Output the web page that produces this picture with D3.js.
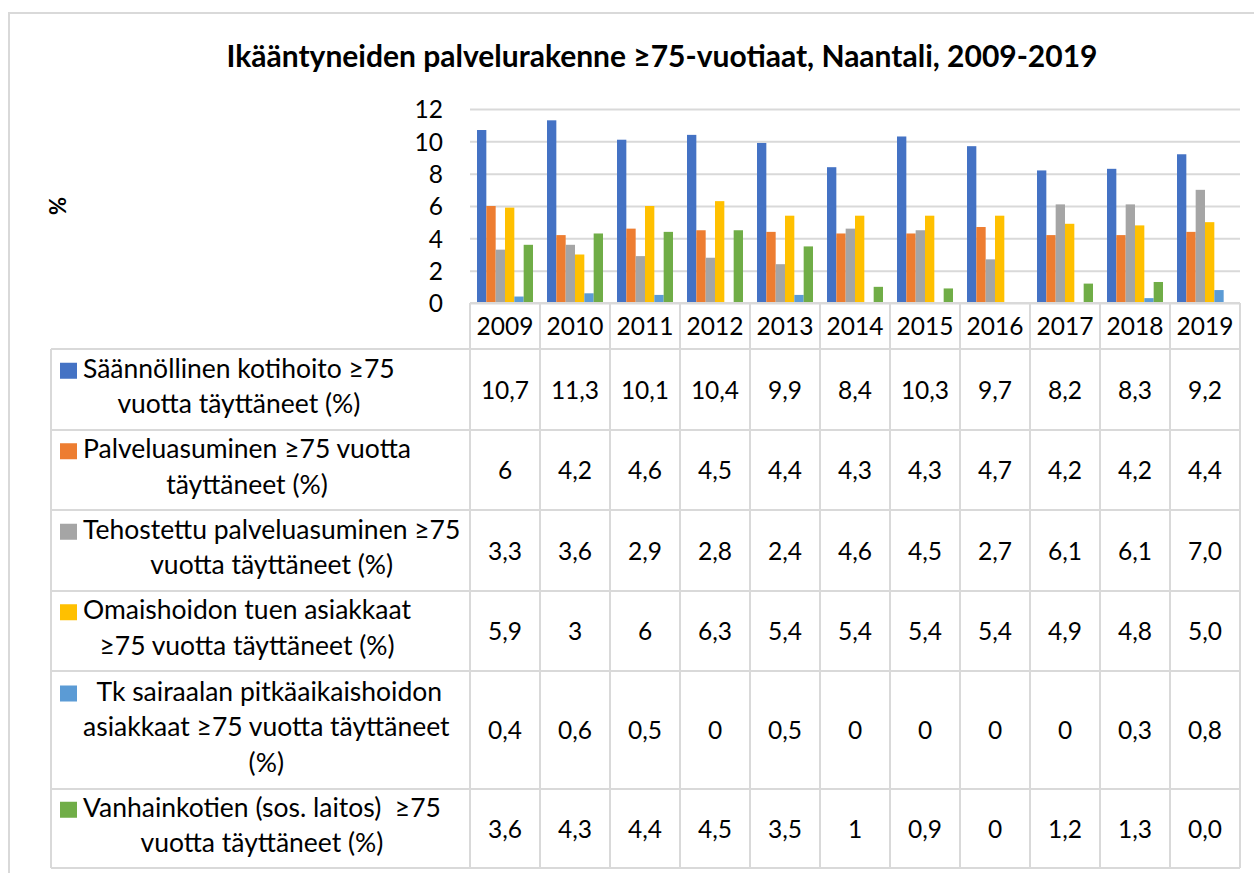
<!DOCTYPE html>
<html>
<head>
<meta charset="utf-8">
<script src="https://cdn.jsdelivr.net/npm/d3@7"></script>
<style>
  body { margin: 0; background: #fff; }
  text { font-family: Lato, "Open Sans", sans-serif; fill: #000; }
</style>
</head>
<body>
<svg></svg>
<script>
// Chart data (table values kept as printed)
const years = ["2009", "2010", "2011", "2012", "2013", "2014", "2015", "2016", "2017", "2018", "2019"];

const seriesNames = [
    "Säännöllinen kotihoito ≥75\nvuotta täyttäneet (%)",
    "Palveluasuminen ≥75 vuotta\ntäyttäneet (%)",
    "Tehostettu palveluasuminen ≥75\nvuotta täyttäneet (%)",
    "Omaishoidon tuen asiakkaat\n≥75 vuotta täyttäneet (%)",
    " Tk sairaalan pitkäaikaishoidon\nasiakkaat ≥75 vuotta täyttäneet\n(%)",
    "Vanhainkotien (sos. laitos)  ≥75\nvuotta täyttäneet (%)"
];

const kotihoito     = ["10,7", "11,3", "10,1", "10,4", "9,9", "8,4", "10,3", "9,7", "8,2", "8,3", "9,2"];
const palveluasum   = ["6", "4,2", "4,6", "4,5", "4,4", "4,3", "4,3", "4,7", "4,2", "4,2", "4,4"];
const tehostettu    = ["3,3", "3,6", "2,9", "2,8", "2,4", "4,6", "4,5", "2,7", "6,1", "6,1", "7,0"];
const omaishoito    = ["5,9", "3", "6", "6,3", "5,4", "5,4", "5,4", "5,4", "4,9", "4,8", "5,0"];
const tkSairaala    = ["0,4", "0,6", "0,5", "0", "0,5", "0", "0", "0", "0", "0,3", "0,8"];
const vanhainkodit  = ["3,6", "4,3", "4,4", "4,5", "3,5", "1", "0,9", "0", "1,2", "1,3", "0,0"];

const yTicks = [0, 2, 4, 6, 8, 10, 12];
const colors = ["#4472C4", "#ED7D31", "#A5A5A5", "#FFC000", "#5B9BD5", "#70AD47"];

const seriesLabels = [kotihoito, palveluasum, tehostettu, omaishoito, tkSairaala, vanhainkodit];
const toNumber = s => +s.replace(",", ".");

const width = 1254;
const height = 873;
const gridColor = "#d9d9d9";
const fontSize = 24.5;
const labelSize = 26.5;

const svg = d3.select("svg")
    .attr("width", width)
    .attr("height", height);

// outer chart frame
svg.append("rect")
    .attr("x", 9).attr("y", 13)
    .attr("width", 1300).attr("height", 900)
    .attr("fill", "none")
    .attr("stroke", gridColor)
    .attr("stroke-width", 2);

// title
svg.append("text")
    .attr("x", 662).attr("y", 67)
    .attr("text-anchor", "middle")
    .style("font-weight", "bold")
    .style("font-size", "30px")
    .text("Ikääntyneiden palvelurakenne ≥75-vuotiaat, Naantali, 2009-2019");

// axis title
svg.append("text")
    .attr("transform", "translate(66,206) rotate(-90)")
    .attr("text-anchor", "middle")
    .style("font-weight", "bold")
    .style("font-size", "22px")
    .text("%");

// scales
const x0 = d3.scaleBand()
    .domain(years)
    .range([470, 1240]);

const x1 = d3.scaleBand()
    .domain(d3.range(seriesLabels.length))
    .range([x0.bandwidth() * 0.1, x0.bandwidth() * 0.9]);

const y = d3.scaleLinear()
    .domain([0, 12])
    .range([303, 109]);

// gridlines
const yAxis = svg.append("g")
    .attr("transform", "translate(470,0)")
    .call(d3.axisLeft(y).tickValues(yTicks).tickSize(-770).tickPadding(27));

yAxis.select(".domain").remove();
yAxis.selectAll(".tick line")
    .attr("stroke", gridColor)
    .attr("stroke-width", 2);
yAxis.selectAll(".tick text")
    .style("font-size", fontSize + "px")
    .attr("dy", "0.36em");

// bars
const groups = svg.append("g")
    .selectAll("g")
    .data(years)
    .enter().append("g")
    .attr("transform", d => "translate(" + x0(d) + ",0)");

groups.selectAll("rect")
    .data((d, i) => seriesLabels.map((s, k) => ({ k: k, v: toNumber(s[i]) })))
    .enter().append("rect")
    .attr("x", d => x1(d.k))
    .attr("y", d => y(d.v))
    .attr("width", x1.bandwidth())
    .attr("height", d => y(0) - y(d.v))
    .attr("fill", d => colors[d.k]);

// data table
const rowEdges = [349, 430, 510, 591, 671, 789, 868];
const tableLeft = 51;
const tableRight = 1240;

const table = svg.append("g");

// horizontal lines
table.append("line")
    .attr("x1", 470).attr("x2", tableRight)
    .attr("y1", y(0)).attr("y2", y(0));
table.selectAll("line.row")
    .data(rowEdges)
    .enter().append("line")
    .attr("class", "row")
    .attr("x1", tableLeft).attr("x2", tableRight)
    .attr("y1", d => d).attr("y2", d => d);

// vertical lines
table.append("line")
    .attr("x1", tableLeft).attr("x2", tableLeft)
    .attr("y1", rowEdges[0]).attr("y2", rowEdges[rowEdges.length - 1]);
table.selectAll("line.col")
    .data(years.concat(["end"]))
    .enter().append("line")
    .attr("class", "col")
    .attr("x1", (d, i) => 470 + i * x0.bandwidth())
    .attr("x2", (d, i) => 470 + i * x0.bandwidth())
    .attr("y1", y(0)).attr("y2", rowEdges[rowEdges.length - 1]);

table.selectAll("line")
    .attr("stroke", gridColor)
    .attr("stroke-width", 2);

// year labels
table.selectAll("text.year")
    .data(years)
    .enter().append("text")
    .attr("class", "year")
    .attr("x", d => x0(d) + x0.bandwidth() / 2)
    .attr("y", 335)
    .attr("text-anchor", "middle")
    .style("font-size", fontSize + "px")
    .text(d => d);

// rows: legend key, series name and values
seriesLabels.forEach(function(values, k) {
    const top = rowEdges[k];
    const bottom = rowEdges[k + 1];
    const mid = (top + bottom) / 2;
    const lines = seriesNames[k].split("\n");
    const lineHeight = 35.5;
    const firstBase = mid - (lines.length - 1) * lineHeight / 2 + 6;

    table.append("rect")
        .attr("x", 60).attr("y", firstBase - 15)
        .attr("width", 17).attr("height", 16)
        .attr("fill", colors[k]);

    const label = table.append("text")
        .attr("text-anchor", "middle")
        .style("font-size", labelSize + "px")
        .style("white-space", "pre");

    const spans = label.selectAll("tspan")
        .data(lines)
        .enter().append("tspan")
        .attr("y", (d, i) => firstBase + i * lineHeight)
        .text(d => d);

    // centre the lines on the widest one, which starts next to the key
    let widest = 0;
    spans.each(function() { widest = Math.max(widest, this.getComputedTextLength()); });
    spans.attr("x", 83 + widest / 2);

    table.selectAll("text.v" + k)
        .data(values)
        .enter().append("text")
        .attr("class", "v" + k)
        .attr("x", (d, i) => x0(years[i]) + x0.bandwidth() / 2)
        .attr("y", mid + 9)
        .attr("text-anchor", "middle")
        .style("font-size", fontSize + "px")
        .text(d => d);
});
</script>
</body>
</html>
